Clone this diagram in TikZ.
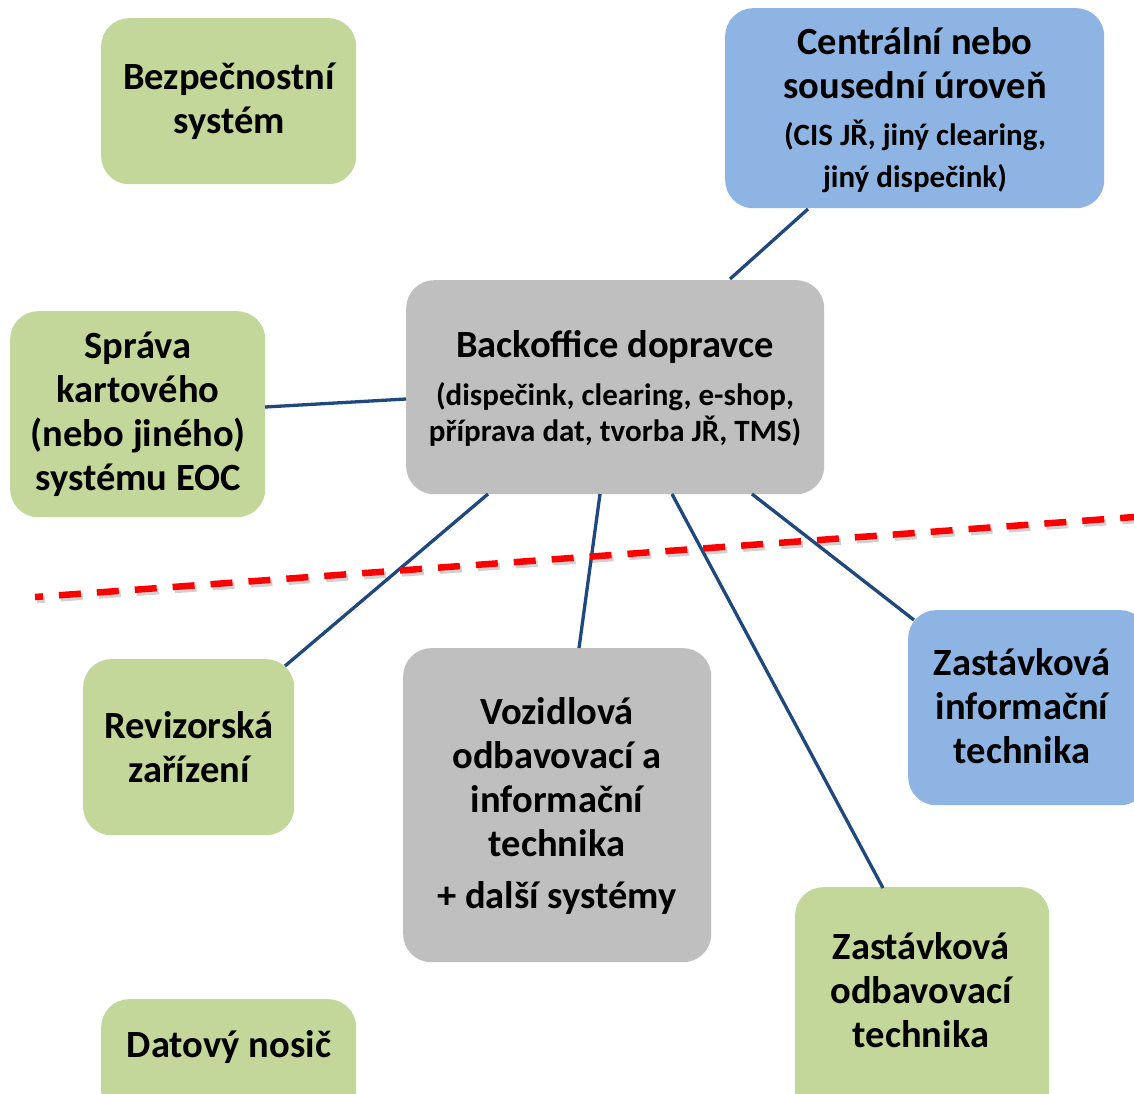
\documentclass[tikz,border=0pt]{standalone}
\usepackage{fontspec}
\setmainfont{Carlito}
\definecolor{boxgreen}{HTML}{C4D79B}
\definecolor{boxblue}{HTML}{8DB4E2}
\definecolor{boxgray}{HTML}{BFBFBF}
\definecolor{linknavy}{HTML}{1F497D}
\begin{document}
\begin{tikzpicture}[x=1pt,y=-1pt,
  box/.style={draw=none,rounded corners=28pt,inner sep=0pt,anchor=north west},
  green/.style={box,fill=boxgreen},
  blue/.style={box,fill=boxblue},
  gray/.style={box,fill=boxgray},
  big/.style={align=center,inner sep=0pt,font=\fontsize{38.5}{44}\selectfont\bfseries},
  small/.style={align=center,inner sep=0pt,font=\fontsize{31}{36}\selectfont\bfseries},
  link/.style={draw=linknavy,line width=3.3pt},
  border/.style={draw=red,line width=6.5pt,dash pattern=on 22pt off 16pt,dash phase=14pt}]
\fill[white] (0,0) rectangle (1134,1093);
\useasboundingbox (0,0) rectangle (1134,1093);

% boxes
\node[green,minimum width=255pt,minimum height=166pt] (bez) at (101,18) {};
\node[blue,minimum width=379pt,minimum height=200pt] (cen) at (725,8) {};
\node[green,minimum width=255pt,minimum height=206pt] (spr) at (10,311) {};
\node[gray,minimum width=418pt,minimum height=214pt] (bo) at (406,280) {};
\node[green,minimum width=211pt,minimum height=176pt] (rev) at (83,659) {};
\node[gray,minimum width=308pt,minimum height=314pt] (voz) at (403,648) {};
\node[blue,minimum width=240pt,minimum height=195pt] (zinf) at (908,610) {};
\node[green,minimum width=254pt,minimum height=240pt] (zodb) at (795,887) {};
\node[green,minimum width=255pt,minimum height=120pt] (dat) at (101,999) {};

% labels
\node[big] (tbez) at (229,101) {Bezpečnostní\\systém};
\node[big] (tcen) at (915,63) {Centrální nebo\\sousední úroveň};
\node[small,font=\fontsize{31}{42}\selectfont\bfseries] (tcen2) at (915,156) {(CIS JŘ, jiný clearing,\\jiný dispečink)};
\node[big] (tspr) at (138,414) {Správa\\kartového\\(nebo jiného)\\systému EOC};
\node[big] (tbo) at (615,347) {Backoffice dopravce};
\node[small] (tbo2) at (615,414) {(dispečink, clearing, e-shop,\\příprava dat, tvorba JŘ, TMS)};
\node[big] (trev) at (189,747) {Revizorská\\zařízení};
\node[big] (tvoz) at (557,777) {Vozidlová\\odbavovací a\\informační\\technika};
\node[big] (tvoz2) at (557,898) {+ další systémy};
\node[big] (tzinf) at (1022,706) {Zastávková\\informační\\technika};
\node[big] (tzodb) at (921,990) {Zastávková\\odbavovací\\technika};
\node[big] (tdat) at (229,1047) {Datový nosič};

% connectors
\coordinate (bo-cen) at (730,279);
\coordinate (cen-bo) at (808,209);
\coordinate (spr-bo) at (265,407);
\coordinate (bo-spr) at (406,399);
\coordinate (bo-rev) at (488,494);
\coordinate (rev-bo) at (285,666);
\coordinate (bo-voz) at (600,494);
\coordinate (voz-bo) at (579,648);
\coordinate (bo-zodb) at (672,494);
\coordinate (zodb-bo) at (883,888);
\coordinate (bo-zinf) at (752,494);
\coordinate (zinf-bo) at (914,620);
\draw[link] (bo-cen) -- (cen-bo);
\draw[link] (spr-bo) -- (bo-spr);
\draw[link] (bo-rev) -- (rev-bo);
\draw[link] (bo-voz) -- (voz-bo);
\draw[link] (bo-zodb) -- (zodb-bo);
\draw[link] (bo-zinf) -- (zinf-bo);

% dashed boundary line with a soft shadow
\coordinate (bl) at (35,597);
\coordinate (br) at (1140,516.6);
\draw[border,draw=black,opacity=0.18,transform canvas={shift={(2pt,-3pt)}}] (bl) -- (br);
\draw[border] (bl) -- (br);
\end{tikzpicture}
\end{document}
